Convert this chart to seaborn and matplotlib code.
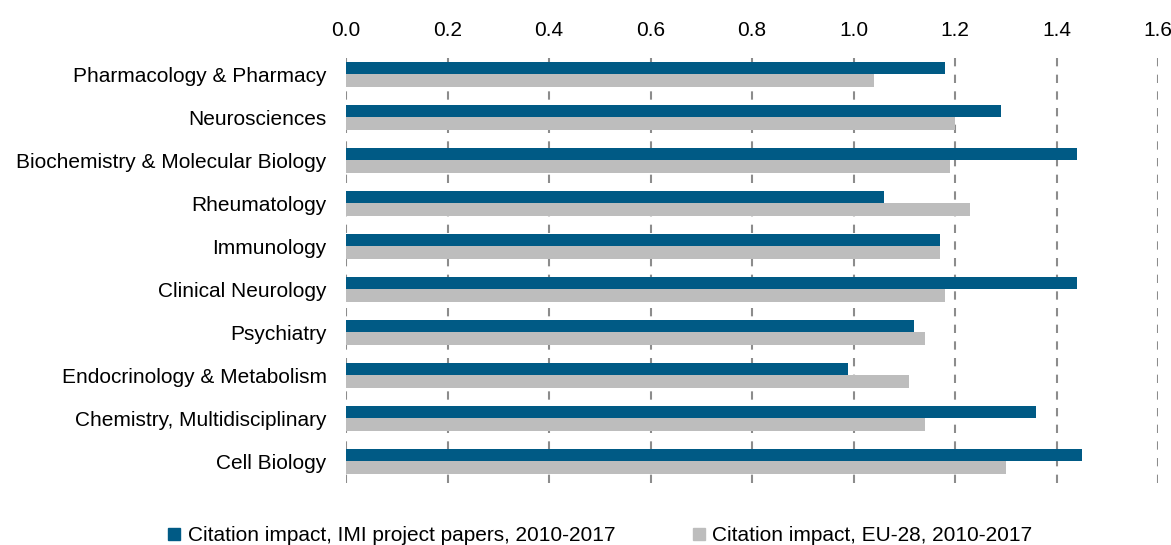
"""plot.py

Citation impact of IMI project papers vs EU-28 by subject category.
"""

import matplotlib.pyplot as plt
import matplotlib.lines as mlines
import pandas as pd
import seaborn as sns

# Chart data
categories = ['Pharmacology & Pharmacy', 'Neurosciences', 'Biochemistry & Molecular Biology',
              'Rheumatology', 'Immunology', 'Clinical Neurology', 'Psychiatry',
              'Endocrinology & Metabolism', 'Chemistry, Multidisciplinary', 'Cell Biology']
imi_values = [1.18, 1.29, 1.44, 1.06, 1.17, 1.44, 1.12, 0.99, 1.36, 1.45]
eu_values = [1.04, 1.20, 1.19, 1.23, 1.17, 1.18, 1.14, 1.11, 1.14, 1.30]
series_names = ['Citation impact, IMI project papers, 2010-2017',
                'Citation impact, EU-28, 2010-2017']
x_ticks = [0.0, 0.2, 0.4, 0.6, 0.8, 1.0, 1.2, 1.4, 1.6]

colours = {series_names[0]: '#005A85', series_names[1]: '#BDBDBD'}

# Build a long-form table for seaborn
df = pd.DataFrame({'category': categories * 2,
                   'value': imi_values + eu_values,
                   'series': [series_names[0]] * len(categories) + [series_names[1]] * len(categories)})

sns.set_style('white')
plt.rcParams['font.family'] = ['Liberation Sans', 'DejaVu Sans']

fig = plt.figure(figsize=(11.71, 5.45), dpi=100)
ax = fig.add_axes([346 / 1171, 1 - 483 / 545, (1158 - 346) / 1171, (483 - 53) / 545])

sns.barplot(data=df, x='value', y='category', hue='series', order=categories,
            hue_order=series_names, palette=colours, width=0.58, orient='h',
            saturation=1, linewidth=0, ax=ax, legend=False)

ax.set_xlim(0, 1.6)
ax.set_ylim(9.5, -0.5)
ax.set_xticks(x_ticks)
ax.set_xticklabels([f'{t:.1f}' for t in x_ticks])
ax.xaxis.tick_top()
ax.tick_params(axis='x', length=0, pad=9, labelsize=15, labelcolor='black')
ax.tick_params(axis='y', length=0, pad=14, labelsize=15, labelcolor='black')
ax.set_xlabel('')
ax.set_ylabel('')
for spine in ax.spines.values():
    spine.set_visible(False)

ax.set_axisbelow(True)
ax.xaxis.grid(True, color='#8C8C8C', linestyle=(0, (4, 4)), linewidth=1.5)

# Legend along the bottom
handles = [mlines.Line2D([], [], marker='s', linestyle='', markersize=8.5,
                         color=colours[name]) for name in series_names]
fig.legend(handles, series_names, loc='lower center', ncol=2, frameon=False,
           fontsize=15, handletextpad=-0.15, columnspacing=3.2, handlelength=1.6,
           labelcolor='black', bbox_to_anchor=(0.508, -0.035))

fig.savefig('out.png', dpi=100)
